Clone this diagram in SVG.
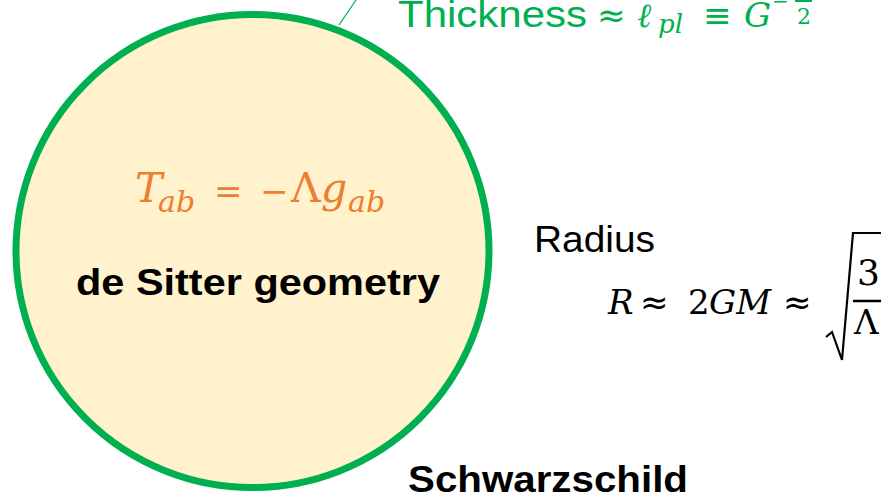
<svg xmlns="http://www.w3.org/2000/svg" width="881" height="498" viewBox="0 0 881 498">
<style>
.sans{font-family:"Liberation Sans","Noto Sans",Arial,sans-serif}
.bold{font-weight:bold;fill:#000}
.math{font-family:"DejaVu Serif","Liberation Serif",serif}
.it{font-style:italic}
.op{font-family:"DejaVu Sans",sans-serif}
.green{fill:#00B050}
.orange{fill:#ED7D31}
</style>
<rect width="881" height="498" fill="#FFFFFF"/>
<g id="connectors">
<line x1="339" y1="25" x2="356" y2="0" stroke="#00B050" stroke-width="1.2"/>
</g>
<g id="desitter">
<circle cx="252.5" cy="251" r="236.5" fill="#FFF2CC" stroke="#00B050" stroke-width="7"/>
<text class="math orange" font-size="41">
<tspan class="it" x="135" y="202">T</tspan><tspan class="it" x="158" y="212" font-size="30">ab</tspan><tspan class="op" x="214" y="203" font-size="34">=</tspan><tspan class="op" x="260" y="203" font-size="34">−</tspan><tspan x="291" y="202">Λ</tspan><tspan class="it" x="321" y="202">g</tspan><tspan class="it" x="348" y="212" font-size="30">ab</tspan>
</text>
<text class="sans bold" x="76" y="295" font-size="36" textLength="364" lengthAdjust="spacingAndGlyphs">de Sitter geometry</text>
</g>
<g id="thickness">
<text class="sans green" x="398" y="27" font-size="36" textLength="189" lengthAdjust="spacingAndGlyphs">Thickness</text>
<text class="op green" x="597" y="27" font-size="34">≈</text>
<text class="math it green" x="637" y="27" font-size="34">ℓ</text>
<text class="math it green" x="658" y="33" font-size="26">pl</text>
<text class="op green" x="703" y="27" font-size="34">≡</text>
<text class="math it green" x="744" y="27" font-size="34">G</text>
<text class="op green" x="772" y="8" font-size="20">−</text>
<text class="math green" x="797" y="-4" font-size="22">1</text>
<line x1="795" y1="1" x2="812" y2="1" stroke="#00B050" stroke-width="2"/>
<text class="math green" x="797" y="24" font-size="22">2</text>
</g>
<g id="radius">
<text class="sans" x="534" y="252" font-size="36" textLength="121" lengthAdjust="spacingAndGlyphs" fill="#000">Radius</text>
<text class="math" font-size="34" fill="#000">
<tspan class="it" x="608" y="314">R</tspan><tspan x="688" y="314">2</tspan><tspan class="it" x="709" y="314">GM</tspan>
</text>
<text class="op" x="640" y="314" font-size="34" fill="#000">≈</text>
<text class="op" x="783" y="314" font-size="34" fill="#000">≈</text>
<path d="M826,337 L832,332 L842,360 L853,233 L881,233" fill="none" stroke="#000" stroke-width="2.2" stroke-linejoin="miter"/>
<text class="math" x="857" y="285" font-size="36" fill="#000">3</text>
<line x1="853" y1="301" x2="881" y2="301" stroke="#000" stroke-width="2.5"/>
<text class="math" x="854" y="334" font-size="34" fill="#000">Λ</text>
</g>
<g id="schwarzschild">
<text class="sans bold" x="408" y="492" font-size="36" textLength="280" lengthAdjust="spacingAndGlyphs">Schwarzschild</text>
</g>
</svg>
